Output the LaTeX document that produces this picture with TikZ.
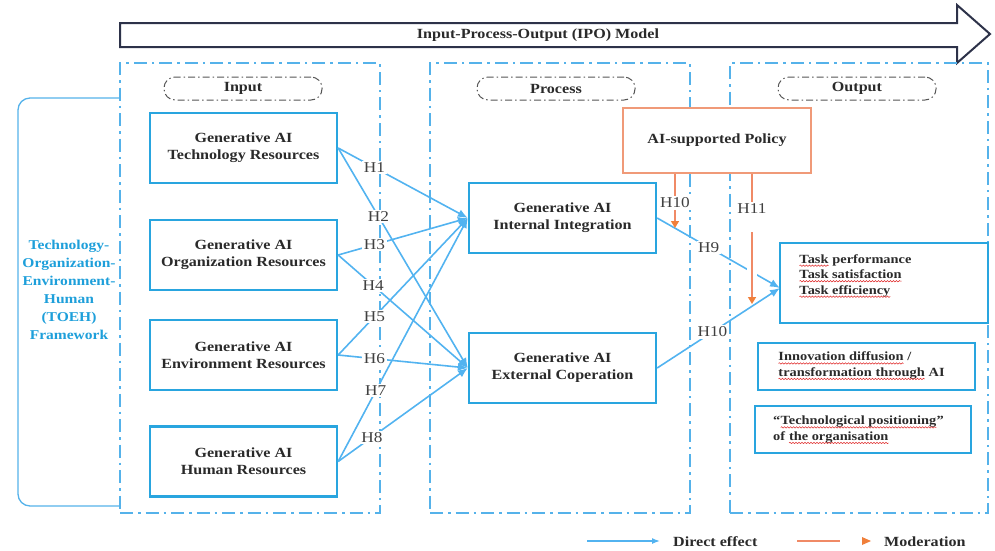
\documentclass[tikz,border=0pt]{standalone}
\usepackage{fontspec}
\setmainfont{Liberation Serif}[FakeStretch=1.15]
\usetikzlibrary{arrows.meta,decorations.pathmorphing}
\definecolor{boxblue}{HTML}{29A5DF}
\definecolor{frameblue}{HTML}{55B2EA}
\definecolor{connblue}{HTML}{52B3F0}
\definecolor{toehblue}{HTML}{1E9FDA}
\definecolor{navyline}{HTML}{2D3249}
\definecolor{pillgray}{HTML}{555555}
\definecolor{txtdark}{HTML}{2A2A2A}
\definecolor{hgray}{HTML}{404040}
\definecolor{polorange}{HTML}{F09A78}
\definecolor{modorange}{HTML}{F08A66}
\definecolor{tiporange}{HTML}{F07F3A}
\definecolor{wavered}{HTML}{E03030}
\newcommand\redwave[1]{\tikz[baseline=(w.base)]{\node[inner sep=0pt, outer sep=0pt] (w) {#1};
  \draw[wavered, line width=0.55pt, decorate, decoration={snake, amplitude=0.7pt, segment length=3pt}]
   ([yshift=-2.6pt]w.base west) -- ([yshift=-2.6pt]w.base east);}}
\begin{document}
\begin{tikzpicture}[x=1pt,y=-1pt,
  box/.style={draw=boxblue, line width=2.3pt, fill=white, minimum width=187pt, minimum height=70pt, align=center, inner sep=0pt, text=txtdark, font=\bfseries\fontsize{14}{17}\selectfont},
  outbox/.style={draw=boxblue, line width=2.3pt, inner sep=0pt},
  outtxt/.style={anchor=west, align=left, inner sep=0pt, text=txtdark, font=\bfseries\fontsize{12.5}{15.5}\selectfont},
  frame/.style={draw=frameblue, line width=1.5pt, dash pattern=on 13pt off 5pt on 2.5pt off 5pt, inner sep=0pt},
  pill/.style={draw=pillgray, line width=1pt, dash pattern=on 7pt off 3pt on 1.5pt off 3pt, rounded corners=11pt, minimum width=158pt, minimum height=23pt, font=\bfseries\fontsize{14}{16}\selectfont, text=txtdark, inner sep=0pt},
  conn/.style={draw=connblue, line width=1.6pt, -{Latex[length=10pt,width=8pt]}},
  hl/.style={fill=white, inner sep=1.5pt, text=hgray, font=\fontsize{15}{15}\selectfont},
  mod/.style={draw=modorange, line width=1.4pt},
  modtip/.style={mod, -{Triangle[length=7pt,width=8pt,color=tiporange]}},
  legtxt/.style={anchor=base west, inner sep=0pt, text=txtdark, font=\bfseries\fontsize{14}{16}\selectfont}
]
\useasboundingbox (0,0) rectangle (995,550);

% IPO arrow
\draw[navyline, line width=2pt, line join=miter, fill=white]
  (120,23) -- (957,23) -- (957,5) -- (990,34) -- (957,63) -- (957,47) -- (120,47) -- cycle;
\node[inner sep=0pt, text=txtdark, font=\bfseries\fontsize{14}{16}\selectfont] (ipo) at (538,35) {Input-Process-Output (IPO) Model};

% frames
\node[frame, minimum width=260pt, minimum height=450pt] (inframe) at (250,288) {};
\node[frame, minimum width=260pt, minimum height=450pt] (prframe) at (560,288) {};
\node[frame, minimum width=258pt, minimum height=450pt] (outframe) at (859,288) {};

% TOEH bracket
\draw[draw=frameblue, line width=1.3pt, rounded corners=12pt] (120,98) -- (18,98) -- (18,506) -- (120,506);
\node[align=center, inner sep=0pt, text=toehblue, font=\bfseries\fontsize{13.5}{18}\selectfont] (toeh) at (69,290)
  {Technology-\\Organization-\\Environment-\\Human\\(TOEH)\\Framework};

% pills
\node[pill] (pin) at (243,88.5) {Input};
\node[pill] (ppr) at (556,88.5) {Process};
\node[pill] (pout) at (857,88.5) {Output};

% boxes
\node[box] (tech) at (243.5,148) {Generative AI\\Technology Resources};
\node[box] (org) at (243.5,255) {Generative AI\\Organization Resources};
\node[box] (env) at (243.5,355) {Generative AI\\Environment Resources};
\node[box] (hum) at (243.5,461.5) {Generative AI\\Human Resources};
\node[box] (int) at (562.5,218) {Generative AI\\Internal Integration};
\node[box] (ext) at (562.5,368) {Generative AI\\External Coperation};
\node[box, draw=polorange, line width=1.6pt, minimum width=188pt, minimum height=65pt] (pol) at (717,140.5) {AI-supported Policy};

% output boxes
\node[outbox, minimum width=208pt, minimum height=80pt] (task) at (884,283) {};
\node[outtxt] (tasktxt) at (799,276) {\redwave{Task} performance\\\redwave{Task satisfaction}\\\redwave{Task efficiency}};
\node[outbox, minimum width=217pt, minimum height=47pt] (inno) at (866.5,366.5) {};
\node[outtxt] (innotxt) at (778,366) {\redwave{Innovation diffusion} /\\\redwave{transformation through} AI};
\node[outbox, minimum width=216pt, minimum height=47pt] (tpos) at (863,429.5) {};
\node[outtxt] (tpostxt) at (773,430) {``\redwave{Technological positioning}''\\of \redwave{the organisation}};

% input -> process connectors
\draw[conn] (tech.east) -- node[hl, pos=0.28] {H1} (int.west);
\draw[conn] (tech.east) -- node[hl, pos=0.31] {H2} (ext.west);
\draw[conn] (org.east) -- node[hl, pos=0.28] {H3} (int.west);
\draw[conn] (org.east) -- node[hl, pos=0.27] {H4} (ext.west);
\draw[conn] (env.east) -- node[hl, pos=0.28] {H5} (int.west);
\draw[conn] (env.east) -- node[hl, pos=0.28] {H6} (ext.west);
\draw[conn] (hum.east) -- node[hl, pos=0.29] {H7} (int.west);
\draw[conn] (hum.east) -- node[hl, pos=0.26] {H8} (ext.west);

% process -> output
\coordinate (tin) at (780,288);
\draw[conn] (int.east) -- node[hl, pos=0.42] {H9} (tin);
\draw[conn] (ext.east) -- node[hl, pos=0.45] {H10} (tin);

% moderation
\node[hl] (h10a) at (675,203) {H10};
\draw[mod] (pol.south -| h10a) -- (h10a.north);
\coordinate (m10) at (675,228);
\draw[modtip] (h10a.south) -- (m10);

\node[hl] (h11) at (752,209) {H11};
\draw[mod] (pol.south -| h11) -- (h11.north);
\fill[white] (747,262) rectangle (757,282);
\coordinate (m11s) at (752,232);
\coordinate (m11) at (752,304);
\draw[modtip] (m11s) -- (m11);

% legend
\coordinate (la) at (587,541);
\coordinate (lb) at (660,541);
\draw[draw=connblue, line width=1.4pt, -{Latex[length=8pt,width=6pt]}] (la) -- (lb);
\node[legtxt] (led) at (673,546) {Direct effect};
\coordinate (ma) at (797,541);
\coordinate (mb) at (840,541);
\draw[mod] (ma) -- (mb);
\fill[tiporange] (862,537) -- (871,541) -- (862,545) -- cycle;
\node[legtxt] (lmod) at (884,546) {Moderation};
\end{tikzpicture}
\end{document}
